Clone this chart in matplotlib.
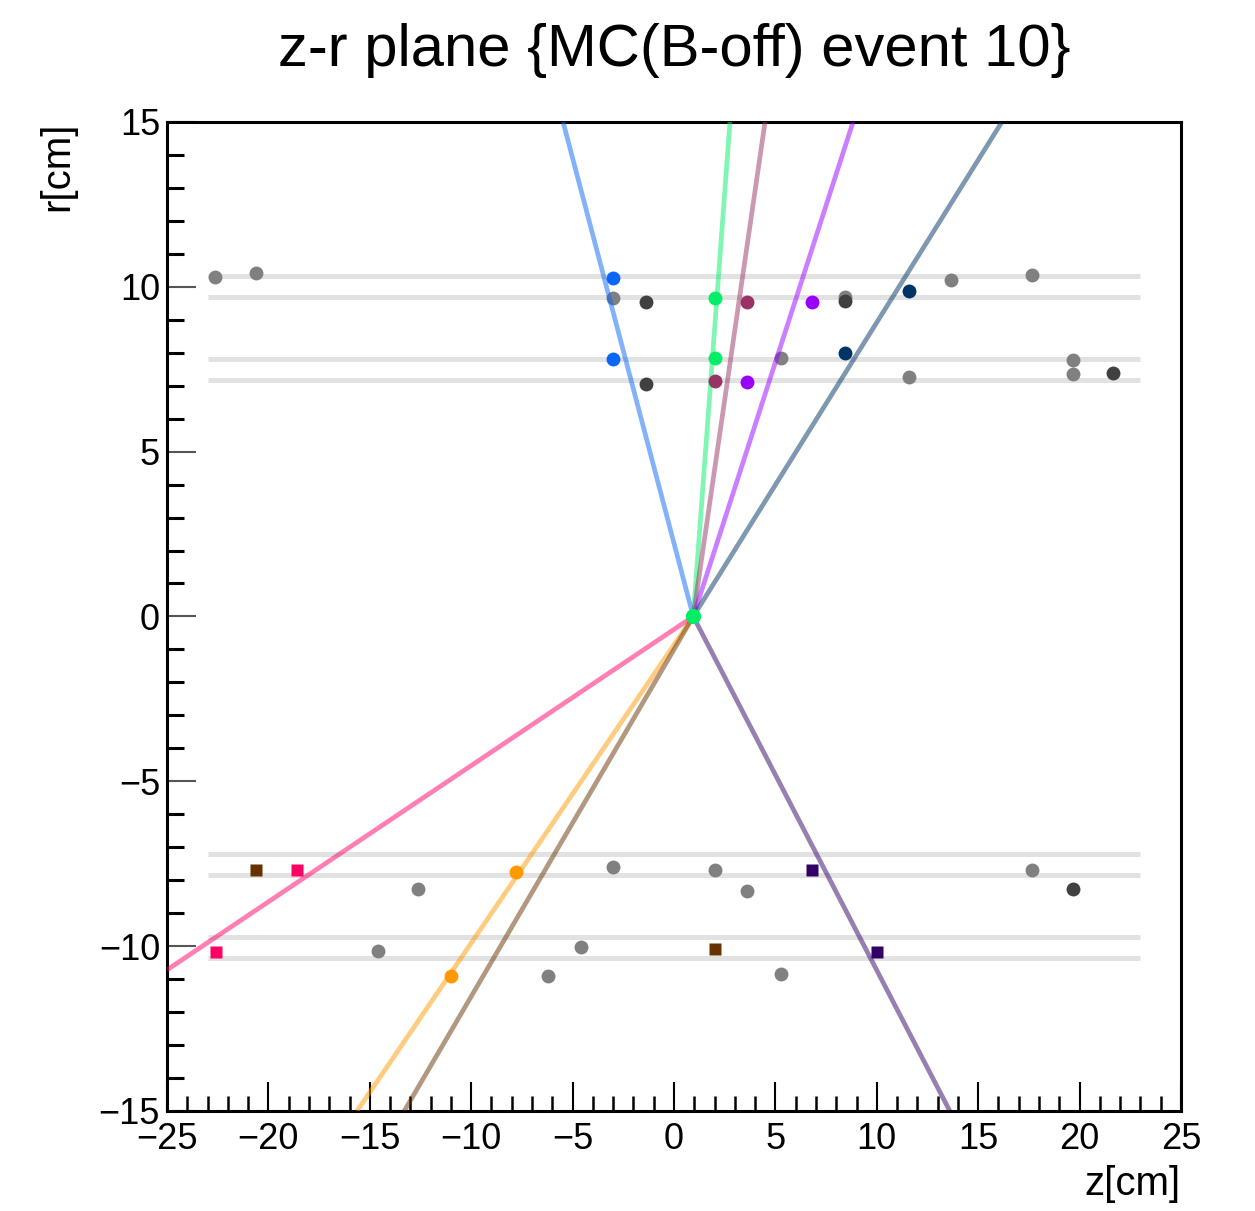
import matplotlib
matplotlib.use("Agg")
import matplotlib.pyplot as plt
from matplotlib.ticker import MultipleLocator

plt.rcParams['font.family'] = ['Liberation Sans', 'DejaVu Sans']

# ---------------- data ----------------
title = "z-r plane {MC(B-off) event 10}"
xlabel = "z[cm]"
ylabel = "r[cm]"

# detector layer radii (gray bands), drawn from z=-23 to 23
layer_r = [10.34, 9.69, 7.81, 7.17, -7.20, -7.84, -9.71, -10.36]
layer_z_min = -23.0
layer_z_max = 23.0

# vertex
vertex_z = 0.95
vertex_r = 0.0

# tracks: colour, end point (z, r) of the straight line starting at the vertex
track_colors = ["#0a66f5", "#00ee66", "#993366", "#9900ff", "#003366",
                "#ff0066", "#ff9900", "#663300", "#330066"]
track_end_z = [-5.47, 2.76, 4.49, 8.83, 16.17, -25.0, -15.63, -13.30, 13.60]
track_end_r = [15.0, 15.0, 15.0, 15.0, 15.0, -10.72, -15.0, -15.0, -15.0]

# hits associated with each track
hit_z = [[-2.99, -2.99], [2.01, 2.01], [3.59, 2.01], [6.81, 3.62], [11.60, 8.43],
         [-18.60, -22.58], [-7.79, -11.01], [-20.61, 2.01], [6.81, 9.99]]
hit_r = [[10.26, 7.80], [9.65, 7.85], [9.55, 7.14], [9.55, 7.11], [9.88, 8.00],
         [-7.69, -10.17], [-7.74, -10.90], [-7.69, -10.10], [-7.69, -10.18]]
hit_marker = ["o", "o", "o", "o", "o", "s", "o", "s", "s"]

# unassociated hits
gray_z = [-22.63, -20.61, -2.99, 13.65, 17.66, 8.43, 5.26, 11.60, 19.66, 19.66,
          -12.61, -2.99, 2.01, 3.62, 17.66, -14.58, -4.60, -6.20, 5.26]
gray_r = [10.31, 10.41, 9.65, 10.21, 10.36, 9.70, 7.85, 7.25, 7.78, 7.35,
          -8.27, -7.61, -7.69, -8.33, -7.69, -10.14, -10.04, -10.90, -10.84]
dark_z = [-1.40, -1.40, 8.43, 21.66, 19.70]
dark_r = [9.55, 7.05, 9.58, 7.38, -8.27]

# ---------------- figure ----------------
fig = plt.figure(figsize=(12.55, 12.11), dpi=100)
ax = fig.add_axes([0.1331, 0.0826, 0.9410 - 0.1331, 0.8993 - 0.0826])

for r in layer_r:
    ax.plot([layer_z_min, layer_z_max], [r, r], color="#e2e2e2", lw=3.6,
            solid_capstyle="butt", zorder=1)

ax.plot(gray_z, gray_r, "o", color="#808080", ms=10, mec="none", zorder=2)

for c, ze, re in zip(track_colors, track_end_z, track_end_r):
    ax.plot([vertex_z, ze], [vertex_r, re], color=c, alpha=0.5, lw=3.4,
            solid_capstyle="butt", zorder=3)

ax.plot(dark_z, dark_r, "o", color="#404040", ms=10, mec="none", zorder=4)

for c, zs, rs, m in zip(track_colors, hit_z, hit_r, hit_marker):
    ax.plot(zs, rs, m, color=c, ms=10 if m == "o" else 9, mec="none", zorder=5)

ax.plot([vertex_z], [vertex_r], "o", color="#00ee66", ms=11, mec="none", zorder=6)

ax.set_xlim(-25, 25)
ax.set_ylim(-15, 15)
ax.xaxis.set_major_locator(MultipleLocator(5))
ax.xaxis.set_minor_locator(MultipleLocator(1))
ax.yaxis.set_major_locator(MultipleLocator(5))
ax.yaxis.set_minor_locator(MultipleLocator(1))

ax.tick_params(which="both", direction="in", top=False, right=False,
               labelsize=26)
ax.tick_params(axis="x", which="major", length=21, width=1.5, pad=8)
ax.tick_params(axis="x", which="minor", length=11, width=1.8)
ax.tick_params(axis="y", which="major", length=21, width=1.5, pad=5,
               color="#555555")
ax.tick_params(axis="y", which="minor", length=12, width=2.2)

for sp in ax.spines.values():
    sp.set_linewidth(2.2)
    sp.set_color("black")

ax.set_title(title, fontsize=43, pad=40)
ax.set_xlabel(xlabel, fontsize=29, loc="right", labelpad=6)
ax.set_ylabel(ylabel, fontsize=29, loc="top", labelpad=16)

fig.savefig("out.png", dpi=100)
